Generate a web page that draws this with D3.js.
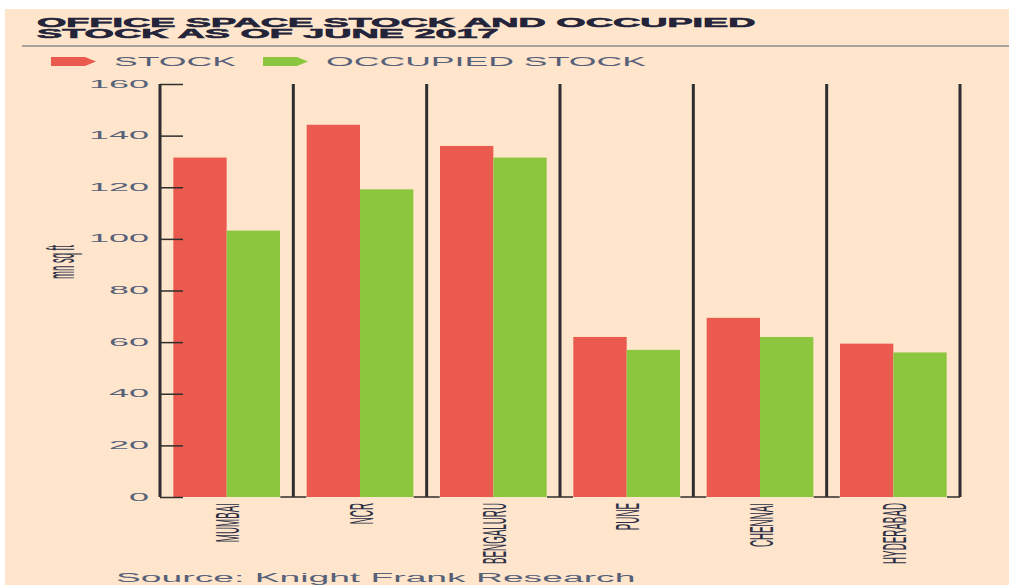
<!DOCTYPE html>
<html>
<head>
<meta charset="utf-8">
<script src="https://cdn.jsdelivr.net/npm/d3@7"></script>
<style>
    html, body { margin: 0; padding: 0; background: #ffffff; }
    svg { display: block; }
    text { font-family: "Liberation Sans", Arial, sans-serif; }
</style>
</head>
<body>
<div id="chart"></div>
<script>
(function () {
    'use strict';

    // data
    var cities = ["MUMBAI", "NCR", "BENGALURU", "PUNE", "CHENNAI", "HYDERABAD"];
    var seriesNames = ["STOCK", "OCCUPIED STOCK"];
    var stock = [131.5, 144.2, 136, 62, 69.4, 59.4];
    var occupied = [103.2, 119.2, 131.5, 57, 62, 56];
    var yTicks = [0, 20, 40, 60, 80, 100, 120, 140, 160];
    var titleLines = ["OFFICE SPACE STOCK AND OCCUPIED", "STOCK AS OF JUNE 2017"];

    var width = 1009,
        height = 585,
        margin = {top: 84, right: 49, bottom: 88, left: 160},
        colors = ["#eb5a4e", "#8cc63f"],
        bg = "#fee5cb",
        ink = "#2e2e2e",
        labelColor = "#566079",
        stretch = 2.85;

    var svg = d3.select("#chart").append("svg")
        .attr("width", width)
        .attr("height", height);

    svg.append("rect")
        .attr("x", 5).attr("y", 9)
        .attr("width", width - 5).attr("height", height - 9)
        .attr("fill", bg);

    // title, two tightly set lines in one text block
    svg.append("text")
        .attr("transform", "translate(37,26.5) scale(3.02,1)")
        .attr("font-size", 12.5)
        .attr("font-weight", "bold")
        .attr("fill", "#23243a")
        .attr("stroke", "#23243a")
        .attr("stroke-width", 0.55)
        .selectAll("tspan")
        .data(titleLines)
        .enter()
        .append("tspan")
        .attr("x", 0)
        .attr("dy", function (d, i) { return i === 0 ? 0 : 11; })
        .text(function (d) { return d; });

    svg.append("line")
        .attr("x1", 22).attr("x2", width)
        .attr("y1", 46).attr("y2", 46)
        .attr("stroke", "#8c8c8c")
        .attr("stroke-width", 1.5);

    // legend
    var legendX = [51, 263];
    var legend = svg.append("g").selectAll("g")
        .data(seriesNames)
        .enter()
        .append("g")
        .attr("transform", function (d, i) { return "translate(" + legendX[i] + ",57)"; });

    legend.append("path")
        .attr("d", "M0,0H34L45,4.5L34,9H0Z")
        .attr("fill", function (d, i) { return colors[i]; });

    legend.append("text")
        .attr("transform", "translate(63,9) scale(" + stretch + ",1)")
        .attr("font-size", 12.5)
        .attr("fill", labelColor)
        .text(function (d) { return d; });

    // scales
    var x0 = d3.scaleBand()
        .domain(cities)
        .range([margin.left, width - margin.right]);

    var x1 = d3.scaleBand()
        .domain(seriesNames)
        .range([0, x0.bandwidth()])
        .paddingOuter(0.25);

    var y = d3.scaleLinear()
        .domain([0, 160])
        .range([height - margin.bottom, margin.top]);

    // bars
    var groups = svg.append("g").selectAll("g")
        .data(cities)
        .enter()
        .append("g")
        .attr("transform", function (d) { return "translate(" + x0(d) + ",0)"; });

    groups.selectAll("rect")
        .data(function (d, i) {
            return [
                {key: seriesNames[0], value: stock[i]},
                {key: seriesNames[1], value: occupied[i]}
            ];
        })
        .enter()
        .append("rect")
        .attr("x", function (d) { return x1(d.key); })
        .attr("width", x1.bandwidth())
        .attr("y", function (d) { return y(d.value); })
        .attr("height", function (d) { return y(0) - y(d.value); })
        .attr("fill", function (d, i) { return colors[i]; });

    // y axis, ticks pointing inward
    var yAxis = svg.append("g")
        .attr("transform", "translate(" + margin.left + ",0)")
        .call(d3.axisRight(y).tickValues(yTicks).tickSize(23).tickFormat(""));

    yAxis.select(".domain").remove();
    yAxis.selectAll(".tick line")
        .attr("stroke", ink)
        .attr("stroke-width", 1.5);

    svg.append("g").selectAll("text")
        .data(yTicks)
        .enter()
        .append("text")
        .attr("transform", function (d) { return "translate(149," + y(d) + ") scale(3.6,1)"; })
        .attr("dy", "0.35em")
        .attr("text-anchor", "end")
        .attr("font-size", 10)
        .attr("fill", labelColor)
        .text(function (d) { return d; });

    // separators between cities (first one is the axis line)
    var bounds = cities.map(function (d) { return x0(d); }).concat([x0.range()[1]]);

    svg.append("g").selectAll("line")
        .data(bounds)
        .enter()
        .append("line")
        .attr("x1", function (d) { return d; })
        .attr("x2", function (d) { return d; })
        .attr("y1", y(160))
        .attr("y2", y(0))
        .attr("stroke", ink)
        .attr("stroke-width", 3);

    svg.append("g").selectAll("line")
        .data(bounds.slice(1))
        .enter()
        .append("line")
        .attr("x1", function (d) { return d - 13; })
        .attr("x2", function (d, i) { return i === bounds.length - 2 ? d : d + 13; })
        .attr("y1", y(0))
        .attr("y2", y(0))
        .attr("stroke", ink)
        .attr("stroke-width", 1.5);

    // category labels
    svg.append("g").selectAll("text")
        .data(cities)
        .enter()
        .append("text")
        .attr("transform", function (d) {
            return "translate(" + (x0(d) + x0.bandwidth() / 2 + 1) + "," + (y(0) + 6) + ") scale(3.4,1) rotate(-90)";
        })
        .attr("dy", "0.35em")
        .attr("text-anchor", "end")
        .attr("font-size", 9.8)
        .attr("fill", "#2c2f45")
        .text(function (d) { return d; });

    // y axis title
    svg.append("text")
        .attr("transform", "translate(74,262) scale(4,1) rotate(-90)")
        .attr("text-anchor", "middle")
        .attr("font-size", 9.5)
        .attr("fill", "#2c2f45")
        .text("mn sq ft");

    // source
    svg.append("text")
        .attr("transform", "translate(116,582) scale(2.98,1)")
        .attr("font-size", 12.5)
        .attr("fill", labelColor)
        .text("Source: Knight Frank Research");

})();
</script>
</body>
</html>
